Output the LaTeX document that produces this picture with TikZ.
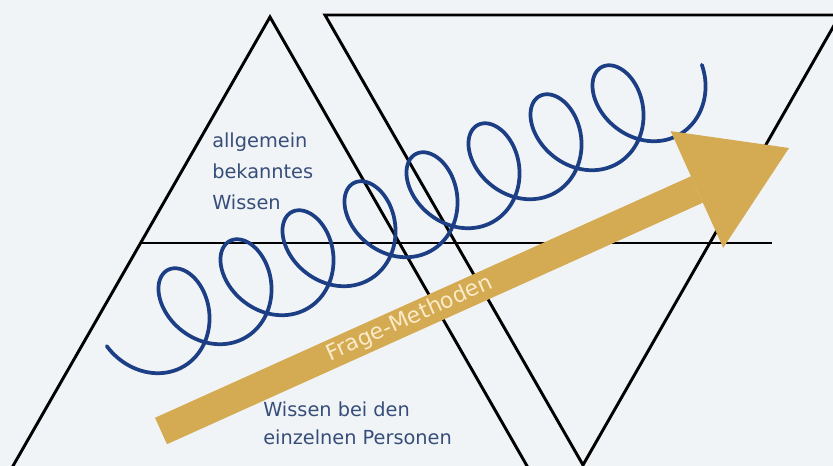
\documentclass[tikz,border=0pt]{standalone}
\usepackage{fontspec}
\setmainfont{DejaVu Sans}
\usetikzlibrary{arrows.meta}
\definecolor{wsPaper}{RGB}{241,244,246}
\definecolor{wsNavy}{RGB}{28,62,132}
\definecolor{wsSlate}{RGB}{55,78,122}
\definecolor{wsGold}{RGB}{212,170,82}
\definecolor{wsCream}{RGB}{250,236,200}

\begin{document}
\begin{tikzpicture}[x=0.75pt, y=0.75pt,
    frame/.style={black, line width=2.2pt, line join=miter},
    coil/.style={wsNavy, line width=2.8pt, line cap=round},
    methodarrow/.style={wsGold, line width=21.75pt,
      -{Triangle[width=96pt, length=75.75pt, line width=0pt]}},
    wisstext/.style={wsSlate, align=left, inner sep=0pt}]
    % paper
    \fill[wsPaper] (0,0) rectangle (833,466);
    \useasboundingbox (0,0) rectangle (833,466);
    \clip (0,0) rectangle (833,466);
    % the two triangles and the divider
    \draw[frame] (1.5,-20) -- (270,449) -- (538.5,-20);
    \draw[frame] (325,451) -- (840,451) -- (583,1) -- cycle;
    \draw[frame] (140.6,223) -- (772,223);
    % coil
    \draw[coil] plot[domain=-1.3:52.34, samples=700, smooth, variable=\t]
      ({155+9.868*\t+39*sin(\t r)+8*cos(\t r)}, {138+4.615*\t-45*cos(\t r)});
    % arrow
    \coordinate (tail) at (161,35);
    \coordinate (tip) at (789,318);
    \draw[methodarrow] (tail) -- node[pos=0.396, sloped, text=wsCream,
      font=\fontsize{16.5}{19}\selectfont] (frage) {Frage-Methoden} (tip);
    % labels
    \node[wisstext, anchor=north west, font=\fontsize{14.5}{23.25}\selectfont]
      (allg) at (212,333) {allgemein\\bekanntes\\Wissen};
    \node[wisstext, anchor=north west, font=\fontsize{14.5}{20.5}\selectfont]
      (einz) at (263,64) {Wissen bei den\\einzelnen Personen};
\end{tikzpicture}
\end{document}
